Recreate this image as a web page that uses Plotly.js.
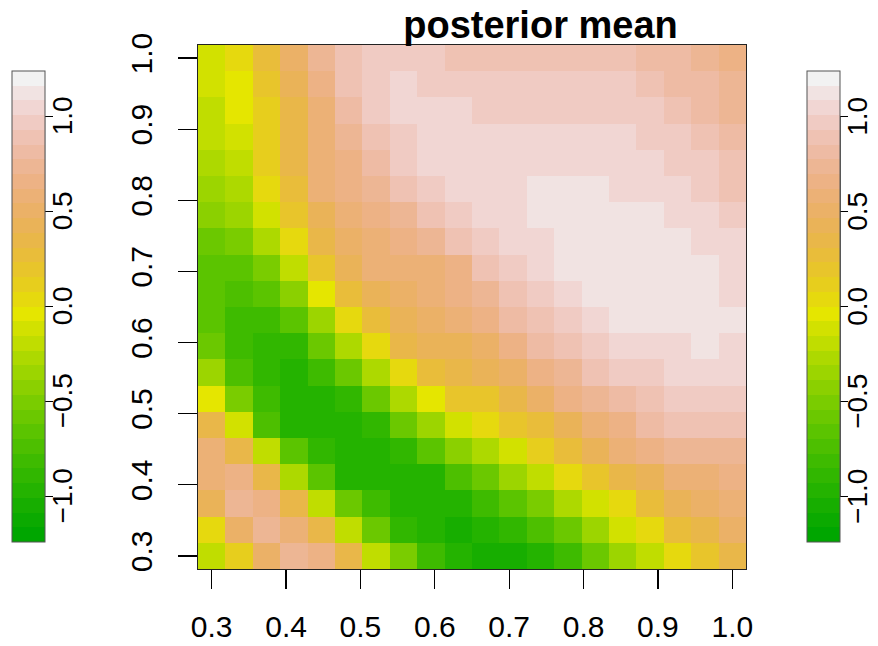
<!DOCTYPE html>
<html><head><meta charset="utf-8">
<script src="https://cdn.plot.ly/plotly-3.0.1.min.js"></script>
<style>html,body{margin:0;padding:0;background:#fff}#chart{width:878px;height:646px}</style>
</head><body><div id="chart"></div>
<script>
// grid coordinates (20 x 20)
const xVals = [0.3, 0.3368, 0.3737, 0.4105, 0.4474, 0.4842, 0.5211, 0.5579, 0.5947, 0.6316,
               0.6684, 0.7053, 0.7421, 0.7789, 0.8158, 0.8526, 0.8895, 0.9263, 0.9632, 1.0];
// rows listed from top (y = 1.0) to bottom (y = 0.3)
const yVals = [1.0, 0.9632, 0.9263, 0.8895, 0.8526, 0.8158, 0.7789, 0.7421, 0.7053, 0.6684,
               0.6316, 0.5947, 0.5579, 0.5211, 0.4842, 0.4474, 0.4105, 0.3737, 0.3368, 0.3];
const posteriorMean = [
 [-0.12, 0.04, 0.27, 0.50, 0.74, 0.89, 0.97, 0.97, 0.97, 0.89, 0.89, 0.89, 0.89, 0.89, 0.89, 0.89, 0.81, 0.81, 0.74, 0.66],
 [-0.12,-0.04, 0.19, 0.43, 0.66, 0.89, 0.97, 1.05, 0.97, 0.97, 0.97, 0.97, 0.97, 0.97, 0.97, 0.97, 0.89, 0.81, 0.81, 0.74],
 [-0.19,-0.04, 0.12, 0.35, 0.58, 0.81, 0.97, 1.05, 1.05, 1.05, 0.97, 0.97, 0.97, 0.97, 0.97, 0.97, 0.97, 0.89, 0.81, 0.74],
 [-0.19,-0.12, 0.12, 0.35, 0.58, 0.74, 0.89, 0.97, 1.05, 1.05, 1.05, 1.05, 1.05, 1.05, 1.05, 1.05, 0.97, 0.97, 0.89, 0.81],
 [-0.27,-0.19, 0.12, 0.35, 0.58, 0.66, 0.81, 0.97, 1.05, 1.05, 1.05, 1.05, 1.05, 1.05, 1.05, 1.05, 1.05, 0.97, 0.97, 0.89],
 [-0.35,-0.27, 0.04, 0.27, 0.58, 0.66, 0.74, 0.89, 0.97, 1.05, 1.05, 1.05, 1.12, 1.12, 1.12, 1.05, 1.05, 1.05, 0.97, 0.89],
 [-0.43,-0.35,-0.12, 0.19, 0.43, 0.58, 0.66, 0.74, 0.89, 0.97, 1.05, 1.05, 1.12, 1.12, 1.12, 1.12, 1.12, 1.05, 1.05, 0.97],
 [-0.58,-0.50,-0.27, 0.04, 0.35, 0.50, 0.58, 0.66, 0.74, 0.89, 0.97, 1.05, 1.05, 1.12, 1.12, 1.12, 1.12, 1.12, 1.05, 1.05],
 [-0.66,-0.66,-0.50,-0.19, 0.19, 0.43, 0.58, 0.58, 0.58, 0.66, 0.89, 0.97, 1.05, 1.12, 1.12, 1.12, 1.12, 1.12, 1.12, 1.05],
 [-0.66,-0.74,-0.66,-0.43,-0.04, 0.27, 0.43, 0.50, 0.58, 0.66, 0.74, 0.89, 0.97, 1.05, 1.12, 1.12, 1.12, 1.12, 1.12, 1.05],
 [-0.66,-0.81,-0.81,-0.66,-0.35, 0.04, 0.27, 0.43, 0.50, 0.58, 0.66, 0.81, 0.89, 0.97, 1.05, 1.12, 1.12, 1.12, 1.12, 1.12],
 [-0.58,-0.81,-0.89,-0.89,-0.58,-0.27, 0.04, 0.35, 0.43, 0.43, 0.50, 0.66, 0.81, 0.89, 0.97, 1.05, 1.05, 1.05, 1.12, 1.05],
 [-0.35,-0.74,-0.89,-0.97,-0.81,-0.58,-0.27, 0.04, 0.27, 0.35, 0.43, 0.50, 0.66, 0.74, 0.89, 0.97, 0.97, 1.05, 1.05, 1.05],
 [-0.04,-0.50,-0.81,-0.97,-0.97,-0.89,-0.58,-0.27,-0.04, 0.19, 0.19, 0.35, 0.50, 0.66, 0.74, 0.81, 0.89, 0.97, 0.97, 0.97],
 [ 0.35,-0.12,-0.74,-0.97,-0.97,-0.97,-0.89,-0.58,-0.35,-0.12, 0.04, 0.19, 0.27, 0.43, 0.58, 0.66, 0.81, 0.89, 0.89, 0.89],
 [ 0.58, 0.35,-0.19,-0.66,-0.89,-0.97,-0.97,-0.89,-0.66,-0.43,-0.27,-0.12, 0.12, 0.27, 0.43, 0.58, 0.66, 0.74, 0.74, 0.74],
 [ 0.58, 0.66, 0.35,-0.27,-0.66,-0.97,-0.97,-0.97,-0.97,-0.74,-0.58,-0.35,-0.19, 0.04, 0.19, 0.35, 0.43, 0.58, 0.58, 0.66],
 [ 0.43, 0.74, 0.66, 0.35,-0.19,-0.58,-0.81,-0.97,-0.97,-0.97,-0.81,-0.66,-0.50,-0.27,-0.12, 0.04, 0.27, 0.43, 0.50, 0.58],
 [ 0.04, 0.50, 0.74, 0.58, 0.35,-0.19,-0.58,-0.89,-0.97,-1.05,-0.97,-0.89,-0.74,-0.58,-0.35,-0.12, 0.04, 0.27, 0.35, 0.50],
 [-0.19, 0.12, 0.50, 0.74, 0.66, 0.35,-0.19,-0.50,-0.81,-0.97,-1.05,-1.05,-0.97,-0.81,-0.58,-0.35,-0.19, 0.04, 0.19, 0.35]
];
const axisTicks = [0.3, 0.4, 0.5, 0.6, 0.7, 0.8, 0.9, 1.0];
const axisTickText = ['0.3', '0.4', '0.5', '0.6', '0.7', '0.8', '0.9', '1.0'];
const cbTicks = [-1.0, -0.5, 0.0, 0.5, 1.0];
const cbTickText = ['\u22121.0', '\u22120.5', '0.0', '0.5', '1.0'];
const zLimits = [-1.24, 1.24];
const nColors = 32;

// R's terrain.colors(n)
function hsv(h, s, v) {
  h = ((h % 1) + 1) % 1;
  const i = Math.floor(h * 6 + 1e-9), f = Math.max(0, h * 6 - i);
  const p = v * (1 - s), q = v * (1 - f * s), t = v * (1 - (1 - f) * s);
  let r, g, b;
  switch (i % 6) {
    case 0: r = v; g = t; b = p; break;
    case 1: r = q; g = v; b = p; break;
    case 2: r = p; g = v; b = t; break;
    case 3: r = p; g = q; b = v; break;
    case 4: r = t; g = p; b = v; break;
    default: r = v; g = p; b = q;
  }
  return 'rgb(' + Math.round(r * 255) + ',' + Math.round(g * 255) + ',' + Math.round(b * 255) + ')';
}
function seq(a, b, n) { const o = []; for (let i = 0; i < n; i++) o.push(n === 1 ? a : a + (b - a) * i / (n - 1)); return o; }
function terrainColors(n) {
  const k = Math.floor(n / 2);
  const h1 = seq(4 / 12, 2 / 12, k), v1 = seq(0.65, 0.9, k);
  const h2 = seq(2 / 12, 0, n - k + 1).slice(1), s2 = seq(1, 0, n - k + 1).slice(1), v2 = seq(0.9, 0.95, n - k + 1).slice(1);
  const out = [];
  for (let i = 0; i < k; i++) out.push(hsv(h1[i], 1, v1[i]));
  for (let i = 0; i < n - k; i++) out.push(hsv(h2[i], s2[i], v2[i]));
  return out;
}
const pal = terrainColors(nColors);
const colorscale = [];
pal.forEach((c, i) => { colorscale.push([i / nColors, c]); colorscale.push([(i + 1) / nColors, c]); });

const W = 878, H = 646;
// plot area in pixels
const mL = 198, mR = 132, mT = 45, mB = 77;
const pw = W - mL - mR, ph = H - mT - mB;
function paperX(px) { return (px - mL) / pw; }
function paperY(py) { return (H - mB - py) / ph; }

const cbTop = 70.7, cbBot = 542, cbThick = 33, cbTickLen = 8;
const cbLefts = [11.5, 807];
const FONT = 'Liberation Sans, Arial, sans-serif';
function colorbar(leftPx) {
  return {
    x: paperX(leftPx), xref: 'paper', xanchor: 'left', xpad: 0, ypad: 0,
    y: paperY((cbTop + cbBot) / 2), yref: 'paper', yanchor: 'middle',
    lenmode: 'pixels', len: cbBot - cbTop, thicknessmode: 'pixels', thickness: cbThick,
    outlinewidth: 1, outlinecolor: '#555',
    ticks: 'outside', ticklen: cbTickLen, tickwidth: 1.3, tickcolor: '#000',
    tickmode: 'array', tickvals: cbTicks, ticktext: cbTickText, showticklabels: false
  };
}
const base = {
  type: 'heatmap', x: xVals, y: yVals, z: posteriorMean,
  colorscale: colorscale, zmin: zLimits[0], zmax: zLimits[1], zsmooth: false,
  hoverinfo: 'x+y+z'
};
const traces = [
  Object.assign({}, base, {colorbar: colorbar(cbLefts[1])}),
  Object.assign({}, base, {colorbar: colorbar(cbLefts[0])})
];

const cbScale = (cbBot - cbTop) / (zLimits[1] - zLimits[0]);
const cbMid = (cbTop + cbBot) / 2;
const shapes = cbLefts.map(l => ({
  type: 'line', xref: 'paper', yref: 'paper',
  x0: paperX(l + cbThick), x1: paperX(l + cbThick),
  y0: paperY(cbMid - cbTicks[0] * cbScale), y1: paperY(cbMid - cbTicks[cbTicks.length - 1] * cbScale),
  line: {color: '#000', width: 1.3}
}));
const annotations = [];
cbLefts.forEach(l => {
  cbTicks.forEach((v, i) => {
    annotations.push({
      xref: 'paper', yref: 'paper', showarrow: false,
      x: paperX(l + cbThick + cbTickLen - 7), xanchor: 'left',
      y: paperY(cbMid - v * cbScale), yanchor: 'middle',
      text: cbTickText[i], textangle: -90, borderpad: 0,
      font: {family: FONT, size: 28, color: '#000'}
    });
  });
});

const half = (xVals[1] - xVals[0]) / 2;
const axisCommon = {
  tickmode: 'array', tickvals: axisTicks, ticktext: axisTickText,
  ticks: 'outside', ticklen: 19, tickwidth: 1.3, tickcolor: '#000',
  showline: true, mirror: true, linecolor: '#222', linewidth: 1,
  showgrid: false, zeroline: false,
  tickfont: {family: FONT, size: 30, color: '#000'}
};
const layout = {
  width: W, height: H,
  margin: {l: mL, r: mR, t: mT, b: mB, pad: 0, autoexpand: false},
  paper_bgcolor: '#fff', plot_bgcolor: '#fff',
  font: {family: FONT, color: '#000'},
  title: {text: '<b>posterior mean</b>', x: 540.5 / W, xref: 'container', xanchor: 'center',
          y: 1 - 25 / H, yref: 'container', yanchor: 'middle',
          font: {family: FONT, size: 38, color: '#000'}},
  xaxis: Object.assign({}, axisCommon, {range: [xVals[0] - half, xVals[19] + half], ticklabelstandoff: 12}),
  yaxis: Object.assign({}, axisCommon, {range: [yVals[19] - half, yVals[0] + half], tickangle: -90, ticklabelstandoff: 14}),
  shapes: shapes,
  annotations: annotations,
  showlegend: false
};
Plotly.newPlot('chart', traces, layout, {displayModeBar: false, staticPlot: true});
</script></body></html>
